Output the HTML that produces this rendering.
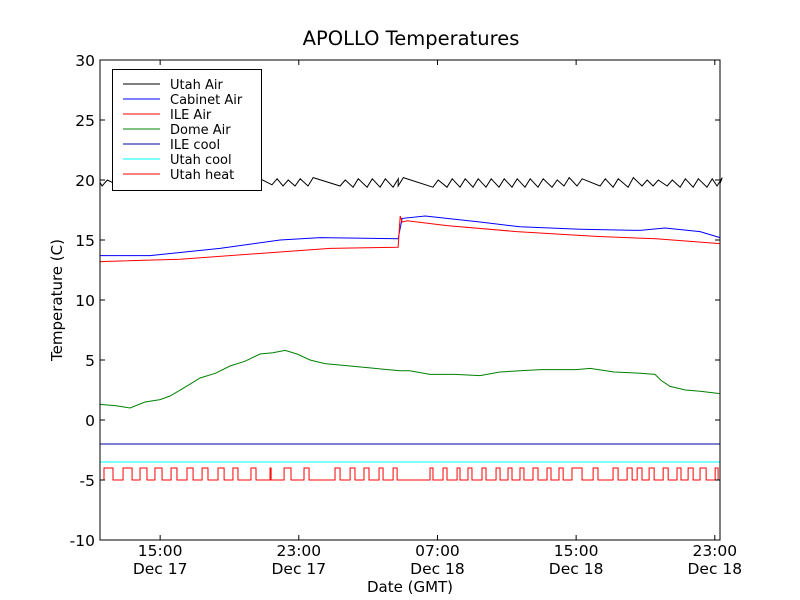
<!DOCTYPE html>
<html><head><meta charset="utf-8"><style>
body{margin:0;background:#fff;}
svg{display:block;font-family:"DejaVu Sans","Liberation Sans",sans-serif;}
</style></head><body>
<svg id="chart" width="800" height="600" viewBox="0 0 800 600">
<rect x="0" y="0" width="800" height="600" fill="#fff"/>
<text x="411" y="45" font-size="19.5" text-anchor="middle">APOLLO Temperatures</text>
<text x="410" y="592" font-size="15" text-anchor="middle">Date (GMT)</text>
<text x="62" y="300" font-size="15" text-anchor="middle" transform="rotate(-90 62 300)">Temperature (C)</text>
<g id="series"></g>
<g id="axes"></g>
<rect x="100" y="60" width="620" height="480" fill="none" stroke="#000" stroke-width="1"/>
<g id="legend"></g>
</svg>
<script>
// ---- data (time in hours since Dec 17 00:00 GMT) ----
const xTicks = [15, 23, 31, 39, 47];
const xTickLabels1 = ["15:00", "23:00", "07:00", "15:00", "23:00"];
const xTickLabels2 = ["Dec 17", "Dec 17", "Dec 18", "Dec 18", "Dec 18"];
const yTicks = [-10, -5, 0, 5, 10, 15, 20, 25, 30];

const utahAirRise = [11.65,12.68,13.55,14.42,15.28,16.15,17.01,17.88,18.74,19.61,20.47,21.45,22.09,22.78,23.53,25.38,26.13,26.94,27.69,28.44,28.73,30.74,31.55,32.30,33.05,33.80,34.55,35.30,36.05,36.80,37.61,38.30,39.05,40.38,41.13,42.00,42.80,43.44,44.25,45.00,45.75,46.55,47.13];
const utahAirPeak = [20.0,20.1,20.1,20.1,20.1,20.1,20.1,20.1,20.1,20.1,20.1,20.1,20.0,20.1,20.2,20.0,20.1,20.1,20.1,20.1,20.2,20.0,20.1,20.1,20.1,20.1,20.1,20.1,20.1,20.1,20.0,20.2,20.1,20.1,20.1,20.2,20.0,20.0,20.0,20.1,20.1,20.1,20.2];
const utahAirTrough = [19.5,19.5,19.5,19.5,19.5,19.5,19.5,19.5,19.5,19.5,19.5,19.6,19.5,19.5,19.5,19.5,19.4,19.4,19.4,19.4,19.5,19.4,19.4,19.4,19.4,19.4,19.4,19.4,19.4,19.4,19.4,19.5,19.5,19.5,19.4,19.4,19.5,19.5,19.5,19.4,19.4,19.4,19.5];

const cabT = [11.53,14.42,18.45,21.92,24.23,28.73,28.96,30.29,33.46,35.76,39.23,42.69,44.13,46.15,47.30];
const cabV = [13.7,13.7,14.3,15.0,15.2,15.1,16.8,17.0,16.5,16.1,15.9,15.8,16.0,15.7,15.2];

const ileT = [11.53,16.15,21.92,24.80,28.73,28.85,28.96,29.25,31.55,35.57,40.15,43.61,47.30];
const ileV = [13.2,13.4,14.0,14.3,14.4,17.0,16.5,16.6,16.2,15.7,15.3,15.1,14.7];

const domeT = [11.53,12.40,13.26,14.13,15.00,15.57,16.40,17.30,18.20,19.03,19.90,20.76,21.50,22.21,22.90,23.65,24.50,25.96,27.40,28.84,29.40,30.57,32.00,33.46,34.60,35.76,37.00,38.07,39.00,39.80,41.20,42.69,43.55,43.90,44.42,45.30,46.15,47.30];
const domeV = [1.3,1.2,1.0,1.5,1.7,2.0,2.7,3.5,3.9,4.5,4.9,5.5,5.6,5.8,5.5,5.0,4.7,4.5,4.3,4.1,4.1,3.8,3.8,3.7,4.0,4.1,4.2,4.2,4.2,4.3,4.0,3.9,3.8,3.3,2.8,2.5,2.4,2.2];

const ileCoolV = -2.0;
const utahCoolV = -3.5;
const heatLow = -5, heatHigh = -4;
const heatOn  = [11.76,12.86,13.84,14.70,15.63,16.55,17.42,18.34,19.20,20.24,21.34,22.15,23.30,25.09,25.96,26.76,27.63,28.44,30.57,31.32,32.13,32.76,33.57,34.38,35.07,35.76,36.51,37.32,38.01,38.76,39.98,41.13,41.94,42.52,43.21,44.02,44.82,45.46,46.15,47.02];
const heatOff = [12.28,13.38,14.24,15.11,15.97,16.90,17.76,18.69,19.49,20.53,21.40,22.55,23.59,25.38,26.24,27.05,27.86,28.67,30.74,31.55,32.30,32.99,33.80,34.61,35.30,35.99,36.80,37.55,38.25,39.34,40.26,41.42,42.23,42.80,43.50,44.31,45.05,45.75,46.50,47.19];

const legendNames = ["Utah Air","Cabinet Air","ILE Air","Dome Air","ILE cool","Utah cool","Utah heat"];
const legendColors = ["#000","#00f","#f00","#008000","#0000a0","#0ff","#f00"];

// ---- axes ----
const T0 = 11.53, T1 = 47.30, X0 = 100, X1 = 720;
const Y0 = 540, Y1 = 60, V0 = -10, V1 = 30;
const xs = t => X0 + (t - T0) / (T1 - T0) * (X1 - X0);
const ys = v => Y0 - (v - V0) / (V1 - V0) * (Y0 - Y1);
const NS = "http://www.w3.org/2000/svg";
const seriesG = document.getElementById('series');
const axesG = document.getElementById('axes');
const legendG = document.getElementById('legend');

function mk(tag, attrs, parent) {
  const e = document.createElementNS(NS, tag);
  for (const k in attrs) e.setAttribute(k, attrs[k]);
  parent.appendChild(e);
  return e;
}
function poly(pts, color, name) {
  const p = mk('polyline', {points: pts.map(p => p[0].toFixed(2) + ',' + p[1].toFixed(2)).join(' '), fill: 'none', stroke: color, 'stroke-width': 1}, seriesG);
  
  
  return p;
}

// Utah air zigzag
{
  const pts = [[xs(T0), ys(19.8)]];
  for (let i = 0; i < utahAirRise.length; i++) {
    pts.push([xs(utahAirRise[i]), ys(utahAirTrough[i])]);
    pts.push([xs(utahAirRise[i] + 0.3), ys(utahAirPeak[i])]);
  }
  pts.push([xs(T1), ys(19.7)]);
  poly(pts, '#000', 'utah-air-line');
}
poly(cabT.map((t, i) => [xs(t), ys(cabV[i])]), '#00f', 'cabinet-air-line');
poly(ileT.map((t, i) => [xs(t), ys(ileV[i])]), '#f00', 'ile-air-line');
poly(domeT.map((t, i) => [xs(t), ys(domeV[i])]), '#008000', 'dome-air-line');
poly([[xs(T0), ys(ileCoolV)], [xs(T1), ys(ileCoolV)]], '#0000a0', 'ile-cool-line');
poly([[xs(T0), ys(utahCoolV)], [xs(T1), ys(utahCoolV)]], '#0ff', 'utah-cool-line');
{
  const pts = [[xs(T0), ys(heatLow)]];
  for (let i = 0; i < heatOn.length; i++) {
    pts.push([xs(heatOn[i]), ys(heatLow)], [xs(heatOn[i]), ys(heatHigh)]);
    pts.push([xs(heatOff[i]), ys(heatHigh)], [xs(heatOff[i]), ys(heatLow)]);
  }
  pts.push([xs(T1), ys(heatLow)]);
  poly(pts, '#f00', 'utah-heat-line');
}

// ticks
yTicks.forEach(v => {
  const y = ys(v);
  let l = mk('line', {x1: X0, x2: X0 + 5, y1: y, y2: y, stroke: '#000'}, axesG);
  
  
  l = mk('line', {x1: X1 - 5, x2: X1, y1: y, y2: y, stroke: '#000'}, axesG);
  
  
  const t = mk('text', {x: X0 - 5, y: y + 6, 'font-size': 15.5, 'text-anchor': 'end'}, axesG);
  t.textContent = v;
  
  
});
xTicks.forEach((h, i) => {
  const x = xs(h);
  let l = mk('line', {x1: x, x2: x, y1: Y0, y2: Y0 - 5, stroke: '#000'}, axesG);
  
  
  l = mk('line', {x1: x, x2: x, y1: Y1, y2: Y1 + 5, stroke: '#000'}, axesG);
  
  
  let t = mk('text', {x: x, y: 556, 'font-size': 15.5, 'text-anchor': 'middle'}, axesG);
  t.textContent = xTickLabels1[i];
  
  
  t = mk('text', {x: x, y: 574, 'font-size': 15.5, 'text-anchor': 'middle'}, axesG);
  t.textContent = xTickLabels2[i];
  
  
});

// legend
{
  const box = mk('rect', {x: 112.5, y: 69.5, width: 149, height: 121, fill: '#fff', stroke: '#000'}, legendG);
  
  
  legendNames.forEach((n, i) => {
    const y = 84 + i * 15;
    const l = mk('line', {x1: 123, x2: 160, y1: y, y2: y, stroke: legendColors[i]}, legendG);
    
    
    const t = mk('text', {x: 170, y: y + 5, 'font-size': 13}, legendG);
    t.textContent = n;
    
    
  });
}
</script>
</body></html>
